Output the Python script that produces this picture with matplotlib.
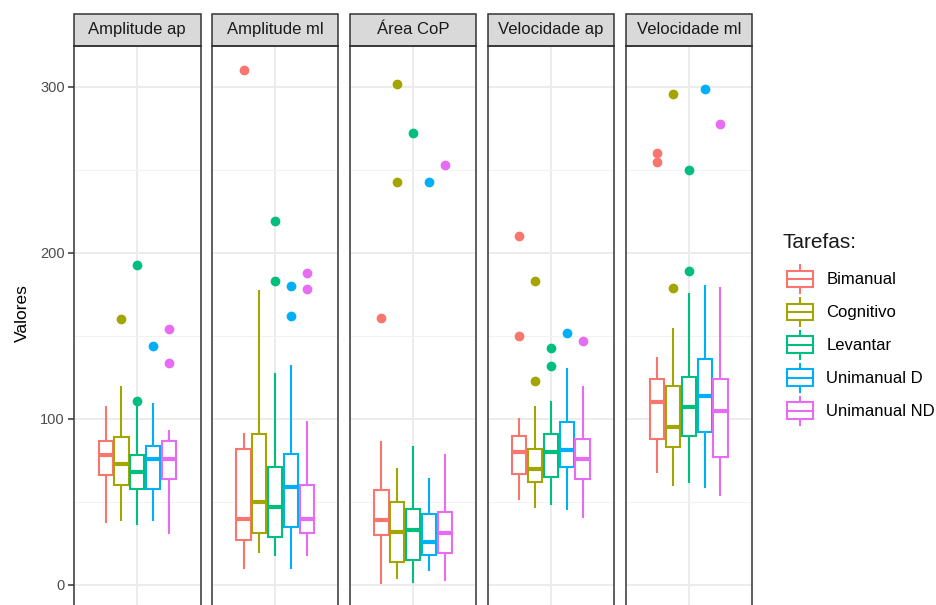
import matplotlib.pyplot as plt
from matplotlib.patches import Rectangle, Patch
from matplotlib.lines import Line2D
from matplotlib.legend_handler import HandlerBase

plt.rcParams['font.family'] = ['Liberation Sans', 'DejaVu Sans']

# ---- data: one row per panel, one value per task ----
panels = ["Amplitude ap", "Amplitude ml", "Área CoP", "Velocidade ap", "Velocidade ml"]
tarefas = ["Bimanual", "Cognitivo", "Levantar", "Unimanual D", "Unimanual ND"]
cores = ["#F8766D", "#A3A500", "#00BF7D", "#00B0F6", "#E76BF3"]

whis_lo = [[38, 39, 37, 39, 31],
           [10, 20, 18, 10, 18],
           [1, 4, 2, 9, 3],
           [52, 47, 49, 46, 41],
           [68, 60, 62, 59, 54]]
q1 = [[66, 60, 58, 58, 64],
      [27, 31, 29, 35, 31],
      [30, 14, 15, 18, 19],
      [67, 62, 65, 71, 64],
      [88, 83, 90, 92, 77]]
mediana = [[78, 73, 68, 76, 76],
           [40, 50, 47, 59, 40],
           [39, 32, 33, 26, 31],
           [80, 70, 80, 81, 76],
           [110, 95, 107, 114, 105]]
q3 = [[87, 89, 78, 84, 87],
      [82, 91, 71, 79, 60],
      [57, 50, 46, 43, 44],
      [90, 82, 91, 98, 88],
      [124, 120, 125, 136, 124]]
whis_hi = [[107, 119, 108, 109, 93],
           [91, 177, 127, 132, 98],
           [86, 70, 83, 64, 78],
           [100, 107, 110, 130, 119],
           [137, 154, 175, 180, 179]]
outliers = [[[], [160], [111, 193], [144], [134, 154]],
            [[310], [], [183, 219], [162, 180], [178, 188]],
            [[161], [243, 302], [272], [243], [253]],
            [[150, 210], [123, 183], [132, 143], [152], [147]],
            [[255, 260], [179, 296], [189, 250], [299], [278]]]

# ---- layout (pixels of a 937x605 canvas) ----
W, H, DPI = 937, 605, 100
PANEL_W = 126.5
PANEL_STEP = 137.9
PANEL_X0 = 74
PANEL_TOP = 45.5
PANEL_BOTTOM = 609
STRIP_H = 31.5
YMIN, YMAX = -14.5, 325

BOX_LW = 1.5
MED_LW = 3.0


class BoxKey(HandlerBase):
    """Small boxplot glyph for legend keys."""
    def create_artists(self, legend, orig, xd, yd, w, h, fs, trans):
        c = orig.get_edgecolor()
        x0, y0 = -xd + w * 0.13, -yd
        w = w * 0.87
        xm = x0 + w / 2
        top, bot = y0 + h, y0
        b1, b2 = y0 + h * 0.2, y0 + h * 0.8
        arts = [
            Line2D([xm, xm], [b2, top], color=c, lw=BOX_LW),
            Line2D([xm, xm], [bot, b1], color=c, lw=BOX_LW),
            Rectangle((x0, b1), w, b2 - b1, fill=False, ec=c, lw=BOX_LW),
            Line2D([x0, x0 + w], [y0 + h / 2] * 2, color=c, lw=BOX_LW),
        ]
        for a in arts:
            a.set_transform(trans)
        return arts


fig = plt.figure(figsize=(W / DPI, H / DPI), dpi=DPI)

axes = []
for p, nome in enumerate(panels):
    left = (PANEL_X0 + p * PANEL_STEP) / W
    bottom = (H - PANEL_BOTTOM) / H
    height = (PANEL_BOTTOM - PANEL_TOP) / H
    ax = fig.add_axes([left, bottom, PANEL_W / W, height])
    axes.append(ax)

    stats = []
    for t in range(len(tarefas)):
        stats.append(dict(med=mediana[p][t], q1=q1[p][t], q3=q3[p][t],
                          whislo=whis_lo[p][t], whishi=whis_hi[p][t],
                          fliers=outliers[p][t]))
    pos = [1 + (t - 2) * 0.15 for t in range(len(tarefas))]
    bp = ax.bxp(stats, positions=pos, widths=0.135, showcaps=False,
                patch_artist=True, manage_ticks=False)
    for t, c in enumerate(cores):
        bp['boxes'][t].set(facecolor="white", edgecolor=c, linewidth=BOX_LW, zorder=3)
        bp['medians'][t].set(color=c, linewidth=MED_LW, solid_capstyle="butt", zorder=4)
        for wl in bp['whiskers'][2 * t:2 * t + 2]:
            wl.set(color=c, linewidth=BOX_LW, zorder=2)
        bp['fliers'][t].set(marker="o", markerfacecolor=c, markeredgecolor=c,
                            markersize=6, zorder=5)

    ax.set_xlim(0.4, 1.6)
    ax.set_ylim(YMIN, YMAX)

    # grid
    ax.set_yticks([0, 100, 200, 300])
    ax.set_yticks([50, 150, 250], minor=True)
    ax.set_xticks([1])
    ax.grid(True, which="major", color="#EBEBEB", linewidth=1.3, zorder=0)
    ax.grid(True, which="minor", axis="y", color="#F2F2F2", linewidth=0.8, zorder=0)
    ax.set_axisbelow(True)
    ax.tick_params(axis="x", length=0, labelbottom=False)
    ax.tick_params(axis="y", which="minor", length=0)

    for s in ax.spines.values():
        s.set_color("#333333")
        s.set_linewidth(1.1)

    if p == 0:
        ax.tick_params(axis="y", which="major", length=4.5, width=1.1,
                       color="#333333", labelsize=10.5, labelcolor="#4D4D4D", pad=2)
        ax.set_ylabel("Valores", fontsize=12.5)
        ax.yaxis.set_label_coords((30 - PANEL_X0) / PANEL_W,
                                  (PANEL_BOTTOM - 313) / (PANEL_BOTTOM - PANEL_TOP))
    else:
        ax.tick_params(axis="y", which="major", length=0, labelleft=False)

    # facet strip
    sh = STRIP_H / (PANEL_BOTTOM - PANEL_TOP)
    ax.add_patch(Rectangle((0, 1), 1, sh, transform=ax.transAxes, clip_on=False,
                           facecolor="#D9D9D9", edgecolor="#333333", linewidth=1.1))
    ax.text(0.5, 1 + sh / 2, nome, transform=ax.transAxes, ha="center", va="center",
            fontsize=12, color="#1A1A1A")

# ---- legend ----
fig.text(783 / W, 1 - 242 / H, "Tarefas:", fontsize=15, ha="left", va="center",
         color="#1A1A1A")
handles = [Patch(edgecolor=c, facecolor="white") for c in cores]
leg = fig.legend(handles, tarefas, handler_map={Patch: BoxKey()},
                 loc="upper left", bbox_to_anchor=(783 / W, 1 - 265 / H),
                 frameon=False, fontsize=12,
                 handlelength=1.8, handleheight=2.2, labelspacing=0.3,
                 handletextpad=0.8, borderpad=0, borderaxespad=0)

plt.savefig("out.png", dpi=DPI)
plt.close()
